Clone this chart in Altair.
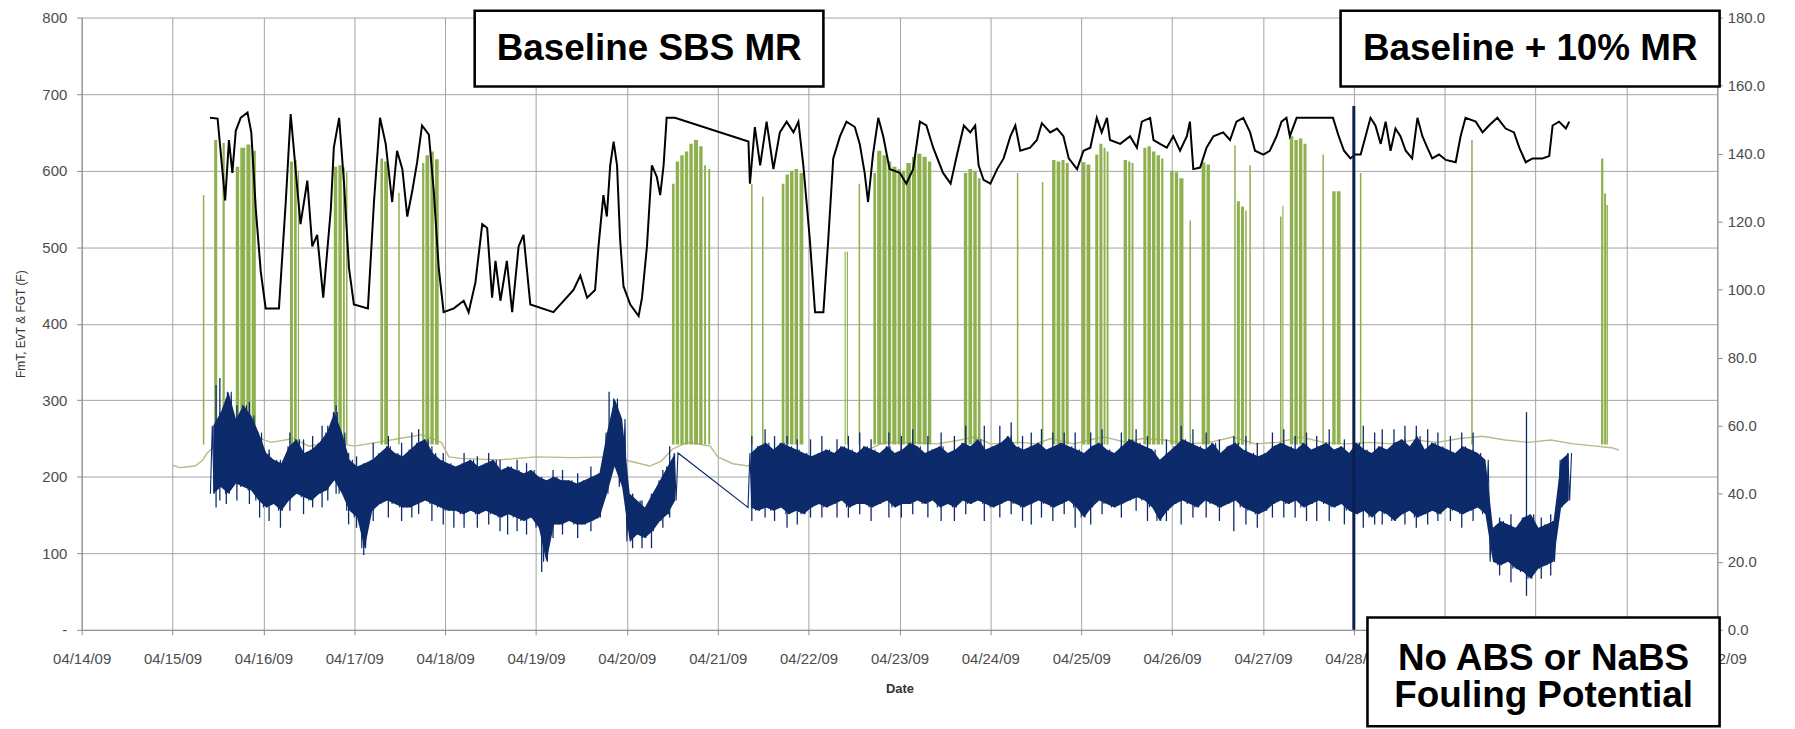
import json
import altair as alt
import pandas as pd

# ---------------- data (time in hours after 04/14/09 00:00) ----------------
DATE_LABELS = ["04/14/09", "04/15/09", "04/16/09", "04/17/09", "04/18/09", "04/19/09",
               "04/20/09", "04/21/09", "04/22/09", "04/23/09", "04/24/09", "04/25/09",
               "04/26/09", "04/27/09", "04/28/09", "04/29/09", "04/30/09", "05/01/09",
               "05/02/09"]
LEFT_TICKS = [0, 100, 200, 300, 400, 500, 600, 700, 800]
RIGHT_TICKS = [0, 20, 40, 60, 80, 100, 120, 140, 160, 180]

# black trace (left axis, F)
BLACK = [(33.9,669),(35.9,668),(37.9,561),(38.9,640),(39.8,597),(40.7,652),(42.0,669),(43.8,676),
         (44.8,650),(46.0,549),(47.3,468),(48.6,420),(52.1,420),(53.9,559),(55.2,674),(56.5,602),
         (57.8,530),(59.6,587),(60.9,501),(62.2,516),(63.8,434),(65.8,549),(66.6,630),(68.0,669),
         (69.3,583),(70.6,473),(71.9,425),(75.6,420),(77.2,559),(78.8,669),(80.3,635),(82.0,559),
         (83.3,626),(84.7,602),(86.0,540),(87.3,573),(88.6,611),(89.9,659),(91.7,647),(93.0,573),
         (94.3,473),(95.6,415),(98.3,420),(100.9,430),(102.2,415),(104.0,454),(105.8,530),
         (107.1,525),(108.4,434),(109.3,482),(110.6,430),(112.3,482),(113.7,415),(115.4,501),
         (116.7,516),(118.5,425),(124.6,415),(129.9,444),(131.7,463),(133.5,434),(135.6,444),
         (136.5,501),(137.8,568),(138.7,540),(139.6,607),(140.5,638),(141.4,607),(142.2,511),
         (143.1,449),(144.9,425),(147.1,410),(148.0,434),(149.3,501),(150.6,607),(151.9,592),
         (152.8,568),(153.7,607),(154.5,669),(156.7,669),(176.1,638),(176.5,583),(177.8,657),
         (179.2,607),(180.9,664),(182.7,602),(184.4,650),(186.2,664),(188.0,650),(189.3,664),
         (190.6,607),(192.3,511),(193.7,415),(195.9,415),(197.2,511),(198.5,616),(200.3,645),
         (202.0,664),(204.2,657),(205.5,635),(206.8,597),(207.7,559),(209.0,621),(210.4,669),
         (211.7,645),(213.4,602),(216.1,597),(217.8,583),(219.6,602),(221.4,664),(223.1,659),
         (224.9,630),(227.5,597),(229.5,583),(231.2,621),(233.0,659),(234.7,650),(236.0,659),
         (236.9,607),(238.2,588),(240.0,583),(241.8,602),(243.5,616),(245.3,645),(246.6,659),
         (247.9,626),(250.5,630),(252.3,640),(253.6,662),(255.8,650),(257.6,655),(259.3,645),
         (260.7,616),(262.9,602),(264.6,626),(266.4,630),(268.1,669),(269.4,650),(270.8,669),
         (271.6,640),(274.3,635),(276.9,645),(278.7,630),(280.0,664),(282.2,669),(283.1,640),
         (284.8,635),(286.6,630),(288.3,645),(290.1,626),(291.9,645),(292.7,664),(293.6,602),
         (295.4,604),(297.1,630),(298.9,645),(301.5,650),(303.3,640),(305.0,664),(306.8,669),
         (308.6,650),(309.9,626),(312.1,621),(313.8,626),(315.6,645),(316.9,664),(318.2,669),
         (319.1,645),(320.9,669),(324.4,669),(330.5,669),(332.0,645),(333.4,626),(335.1,616),
         (336.4,621),(337.8,621),(339.1,645),(340.4,669),(341.7,659),(343.1,635),(344.4,664),
         (345.7,626),(347.0,655),(348.3,645),(349.7,626),(351.4,616),(352.8,669),(354.1,645),
         (355.4,630),(356.7,616),(358.5,621),(360.3,614),(362.9,611),(364.2,645),(365.5,669),
         (368.2,664),(370.0,650),(371.7,659),(373.9,669),(376.1,655),(378.3,650),(379.7,630),
         (381.4,611),(383.2,616),(385.8,616),(387.6,619),(388.5,659),(390.2,664),(392.0,655),
         (392.9,664)]

# thin khaki base trace (left axis, F)
KHAKI = [(24,215),(26,212),(28,213),(30,214),(32,222),(33,230),(36,245),(40,250),(46,252),
         (50,245),(56,250),(60,240),(66,245),(72,240),(78,245),(84,250),(90,255),(95,245),
         (97,226),(100,224),(110,222),(120,226),(130,225),(140,226),(146,219),(150,214),
         (153,220),(156,236),(160,245),(166,240),(168,226),(172,217),(176,214),(178,224),
         (182,230),(186,240),(192,226),(198,222),(204,228),(208,236),(212,245),(220,245),
         (226,243),(232,248),(236,252),(240,243),(248,245),(252,243),(256,250),(262,243),
         (266,248),(270,252),(276,245),(280,250),(286,248),(292,243),(298,245),(304,252),
         (310,243),(316,245),(322,252),(328,245),(334,243),(340,245),(346,243),(352,248),
         (358,245),(364,250),(370,253),(376,248),(382,245),(388,248),(394,243),(400,240),
         (404,238),(406,235)]

# green excursions: start hour, end hour, peak (F)
GREEN = [(32.0,32.4,568),(35.0,35.8,640),(37.2,37.8,636),(40.7,41.6,605),(41.9,43.2,630),
         (43.5,44.6,634),(44.9,46.0,626),(55.0,55.8,612),(56.1,56.8,614),(57.1,57.4,600),
         (66.6,67.5,605),(67.8,68.7,607),(69.0,69.5,604),(69.8,70.2,598),(78.9,79.6,616),
         (79.9,80.9,612),(83.6,84.0,571),(89.9,90.5,610),(90.8,91.8,620),(92.1,93.0,625),
         (93.3,94.3,615),(155.9,156.6,583),(156.9,157.8,612),(158.1,159.0,620),(159.3,160.2,625),
         (160.5,161.4,635),(161.7,162.8,640),(163.1,164.0,632),(164.4,164.9,607),(165.5,166.0,602),
         (176.8,177.2,583),(179.7,180.1,566),(184.9,185.6,583),(185.9,186.8,595),(187.1,188.0,600),
         (188.3,189.2,602),(189.6,190.6,597),(201.5,201.8,494),(202.1,202.4,494),(205.2,205.6,583),
         (209.1,209.8,597),(210.1,211.2,626),(211.5,212.6,620),(212.9,213.8,612),(214.1,215.2,605),
         (215.5,216.4,602),(216.7,217.5,600),(217.8,219.0,610),(219.3,220.4,618),(220.7,221.8,622),
         (222.1,223.2,618),(223.5,224.4,612),(233.0,233.9,597),(234.2,235.2,602),(235.5,236.4,600),
         (236.7,237.4,590),(247.0,247.4,597),(253.6,254.0,585),(256.3,257.2,614),(257.5,258.5,612),
         (258.8,259.6,614),(259.9,260.7,610),(264.2,265.1,611),(265.4,266.4,608),(267.7,268.5,621),
         (268.8,269.6,635),(269.9,270.4,630),(270.7,271.2,625),(275.2,276.1,614),(276.4,277.0,612),
         (277.3,277.8,610),(280.4,281.2,630),(281.5,282.4,632),(282.7,283.6,625),(283.9,284.8,620),
         (285.1,285.7,616),(287.5,288.4,600),(288.7,289.6,598),(289.9,291.0,590),(292.6,293.0,535),
         (295.8,296.8,611),(297.1,298.0,608),(304.4,304.8,633),(305.1,305.9,560),(306.2,307.0,553),
         (307.3,307.7,548),(308.4,308.8,607),(316.5,316.9,540),(317.1,317.4,554),(319.1,320.0,645),
         (320.3,321.2,640),(321.5,322.4,642),(322.7,323.5,635),(327.7,328.1,621),(330.3,331.2,573),
         (331.5,332.5,573),(337.6,338.0,597),(367.0,367.4,640),(401.3,401.9,616),(402.1,402.6,570),
         (402.7,403.1,555)]
GREEN_FLOOR = 242

# navy trace (right axis), low / high envelope every 2 hours
NAVY_A_START = 34
NAVY_A_LO = [40,42,40,43,42,41,38,36,37,35, 38,40,39,38,40,41,44,40,35,33,
             24,35,37,38,37,36,36,37,38,37, 36,35,35,34,35,34,35,34,33,34,
             33,32,33,30,20,31,31,32,31,31, 32,33,40,48,42,26,28,27,29,32, 34,38]
NAVY_A_HI = [60,64,70,62,66,63,58,52,50,49, 54,56,52,53,55,58,64,58,50,48,
             49,50,52,54,52,51,53,55,56,52, 50,49,48,49,50,48,49,50,47,48,
             47,46,47,45,44,45,44,44,43,44, 45,46,58,68,62,40,38,36,40,44, 48,52]
NAVY_B_START = 176
NAVY_B_LO = [36,35,36,35,36,34,35,34,36,37, 36,37,38,36,37,37,36,37,38,36,
             37,37,38,37,38,36,37,36,38,37, 38,37,36,37,38,37,36,37,38,37,
             36,37,38,36,33,36,38,37,36,37, 38,39,38,36,32,35,37,38,37,36,
             38,37,36,37,38,36,35,34,35,37, 38,37,38,36,37,38,37,36,37,35,
             34,35,33,35,34,32,34,35,33,34, 35,34,36,35,34,35,36,34,20,19,
             20,18,17,15,18,19,20,36,38]
NAVY_B_HI = [52,54,55,53,55,54,53,52,51,52, 53,52,54,53,52,54,53,52,54,52,
             53,55,54,52,53,54,52,53,55,54, 56,53,54,55,57,54,53,54,55,53,
             54,55,54,53,52,54,55,53,52,54, 56,55,54,53,50,52,54,56,55,54,
             53,55,52,54,55,53,52,51,52,54, 55,54,53,55,53,54,55,53,54,52,
             55,53,52,54,53,55,56,54,57,53, 55,54,53,52,54,53,52,50,30,32,
             31,30,33,34,30,31,32,50,52]
# isolated navy excursions: hour, low, high
NAVY_SPIKES = [(35.5,36,72),(36.5,38,74),(38.2,37,68),(41.0,38,66),(44.3,37,67),(47.0,33,55),
               (49.5,32,53),(52.5,30,50),(55.0,35,58),(58.6,34,56),(61.0,36,57),(63.5,36,60),
               (65.0,38,60),(67.2,40,66),(70.5,31,52),(72.6,30,51),(74.5,22,45),(77.0,32,55),
               (81.0,33,57),(84.5,32,55),(87.2,33,58),(89.0,34,59),(92.5,32,54),(95.5,31,52),
               (98.3,30,47),(101.0,30,52),(104.5,30,51),(107.5,31,52),(110.5,29,50),
               (112.5,28,47),(115.0,29,50),(117.5,28,49),(121.5,17,40),(124.5,27,47),
               (127.0,28,47),(131.0,27,46),(134.5,29,48),(139.3,45,70),(145.5,24,40),
               (148.0,24,38),(150.5,24,40),(153.5,30,47),(155.3,33,54),
               (177.0,32,57),(180.5,33,59),(183.0,32,57),(186.3,30,57),(189.0,31,56),
               (192.5,33,56),(195.5,33,57),(199.5,33,56),(202.5,33,57),(205.5,34,58),
               (208.5,32,56),(213.2,33,58),(216.5,33,57),(219.5,34,59),(223.5,33,57),
               (227.0,32,58),(230.5,32,57),(233.5,34,60),(238.4,32,60),(242.5,33,60),
               (245.5,34,61),(248.5,32,57),(250.8,31,58),(253.5,33,59),(256.5,32,58),
               (259.5,34,58),(262.4,30,58),(266.5,31,58),(269.5,34,59),(274.6,33,58),
               (278.5,35,59),(281.5,32,57),(286.5,32,56),(290.4,31,60),(293.5,33,59),
               (297.0,33,58),(300.5,32,56),(304.3,29,57),(307.5,31,57),(310.5,30,55),
               (314.5,33,58),(317.5,33,59),(320.5,33,57),(323.5,32,58),(326.2,32,57),
               (329.5,32,59),(333.5,31,56),(338.5,30,60),(341.5,31,58),(343.5,31,59),
               (346.6,33,59),(349.5,31,60),(352.5,30,60),(355.5,31,59),(358.2,32,58),
               (361.5,32,57),(364.5,30,58),(367.5,32,58),(374.5,16,33),(377.5,14,34),
               (381.6,10,64),(385.5,15,33),(388.0,16,34)]
NAVY_BIG_SPIKE = [(336.0,0,154)]

# annotations
NOTE_TEXT = ["Baseline SBS MR", "Baseline + 10% MR", "No ABS or NaBS", "Fouling Potential"]

# ---------------- tables ----------------
black_df = pd.DataFrame(BLACK, columns=["h", "v"])
khaki_df = pd.DataFrame(KHAKI, columns=["h", "v"])
green_df = pd.DataFrame(GREEN, columns=["h0", "h1", "top"])
green_df["base"] = GREEN_FLOOR

zig, band = [], []
for seg, start, los, his in (("A", NAVY_A_START, NAVY_A_LO, NAVY_A_HI),
                             ("B", NAVY_B_START, NAVY_B_LO, NAVY_B_HI)):
    for i, (lo, hi) in enumerate(zip(los, his)):
        h = start + 2 * i
        zig += [{"h": h, "r": lo}, {"h": h + 0.5, "r": hi},
                {"h": h + 1.0, "r": lo}, {"h": h + 1.5, "r": hi}]
        band.append({"h": h + 0.75, "lo": lo, "hi": hi, "seg": seg})
zig_df = pd.DataFrame(zig)
band_df = pd.DataFrame(band)
spk_df = pd.DataFrame(NAVY_SPIKES, columns=["h", "lo", "hi"])
big_df = pd.DataFrame(NAVY_BIG_SPIKE, columns=["h", "lo", "hi"])

box_df = pd.DataFrame({
    "x0": [103.8, 332.5, 339.6], "x1": [195.9, 432.6, 432.6],
    "y0": [710, 710, -126], "y1": [809, 809, 16]})
txt_df = pd.DataFrame({"label": NOTE_TEXT,
                       "x": [149.9, 382.6, 386.1, 386.1],
                       "y": [759.5, 759.5, -38, -87]})

# ---------------- encodings ----------------
GRID = "#a3a3a3"
AX = "#8c8c8c"
LBL = "#4d4d4d"
FONT = "Liberation Sans"
# labels of 04/29 - 05/01 lie under the annotation box in the original
label_expr = ("(datum.value > 340 && datum.value < 430) ? '' : "
              + json.dumps(DATE_LABELS) + "[round(datum.value/24)]")

x_axis = alt.Axis(values=[24 * i for i in range(len(DATE_LABELS))], labelExpr=label_expr,
                  title="Date", grid=True, gridColor=GRID, gridWidth=1,
                  domainColor=AX, tickColor=AX, tickSize=5, labelPadding=17,
                  labelFont=FONT, labelFontSize=15, labelColor=LBL, labelFlush=False,
                  labelOverlap=False, titleFont=FONT, titleFontSize=13,
                  titleFontWeight="bold", titleColor="#333333", titlePadding=16)
xs = alt.Scale(domain=[0, 432], nice=False, zero=False)

def X(field):
    return alt.X(field, type="quantitative", scale=xs, axis=x_axis)

left_axis = alt.Axis(values=LEFT_TICKS, labelExpr="datum.value == 0 ? '-' : datum.label",
                     title="FmT, EvT & FGT (F)", grid=True, gridColor=GRID, gridWidth=1,
                     domainColor=AX, tickColor=AX, tickSize=5, labelPadding=10,
                     labelFont=FONT, labelFontSize=15, labelColor=LBL,
                     titleFont=FONT, titleFontSize=12, titleFontWeight="normal",
                     titleColor="#333333", titlePadding=14)
ls = alt.Scale(domain=[0, 800], nice=False, zero=False)

right_axis = alt.Axis(orient="right", values=RIGHT_TICKS, format=".1f", title=None,
                      grid=False, domainColor=AX, tickColor=AX, tickSize=5,
                      labelPadding=5, labelFont=FONT, labelFontSize=15, labelColor=LBL)
rs = alt.Scale(domain=[0, 180], nice=False, zero=False)

khaki = alt.Chart(khaki_df).mark_line(color="#bdb886", strokeWidth=1.4).encode(
    x=X("h"), y=alt.Y("v:Q", scale=ls, axis=left_axis))
green = alt.Chart(green_df).mark_rect(color="#8fb04f").encode(
    x=X("h0"), x2="h1", y=alt.Y("base:Q", scale=ls, axis=left_axis), y2="top")
black = alt.Chart(black_df).mark_line(color="#000000", strokeWidth=2.0).encode(
    x=X("h"), y=alt.Y("v:Q", scale=ls, axis=left_axis))
left = alt.layer(khaki, green, black)

NAVY = "#0d2b6b"
nband = alt.Chart(band_df).mark_area(color=NAVY, opacity=1).encode(
    x=X("h"), y=alt.Y("lo:Q", scale=rs, axis=right_axis), y2="hi", detail="seg:N")
nline = alt.Chart(zig_df).mark_line(color=NAVY, strokeWidth=1.1).encode(
    x=X("h"), y=alt.Y("r:Q", scale=rs, axis=right_axis))
nspk = alt.Chart(spk_df).mark_rule(color=NAVY, strokeWidth=1.3).encode(
    x=X("h"), y=alt.Y("lo:Q", scale=rs, axis=right_axis), y2="hi")
nbig = alt.Chart(big_df).mark_rule(color="#0a1f4d", strokeWidth=3).encode(
    x=X("h"), y=alt.Y("lo:Q", scale=rs, axis=right_axis), y2="hi")
right = alt.layer(nband, nline, nspk, nbig)

boxes = alt.Chart(box_df).mark_rect(fill="white", stroke="black", strokeWidth=2.6).encode(
    x=X("x0"), x2="x1", y=alt.Y("y0:Q", scale=ls, axis=None), y2="y1")
texts = alt.Chart(txt_df).mark_text(font=FONT, fontWeight="bold", fontSize=37,
                                    color="black", align="center", baseline="middle").encode(
    x=X("x"), y=alt.Y("y:Q", scale=ls, axis=None), text="label:N")
notes = alt.layer(boxes, texts)

chart = alt.layer(left, right, notes).resolve_scale(y="independent").properties(
    width=1643, height=615,
    autosize=alt.AutoSizeParams(type="none"),
    padding={"left": 74, "top": 8, "right": 70, "bottom": 98},
    background="white",
).configure_view(stroke=None)

chart.save("out.html", embed_options={"renderer": "svg", "actions": False})
